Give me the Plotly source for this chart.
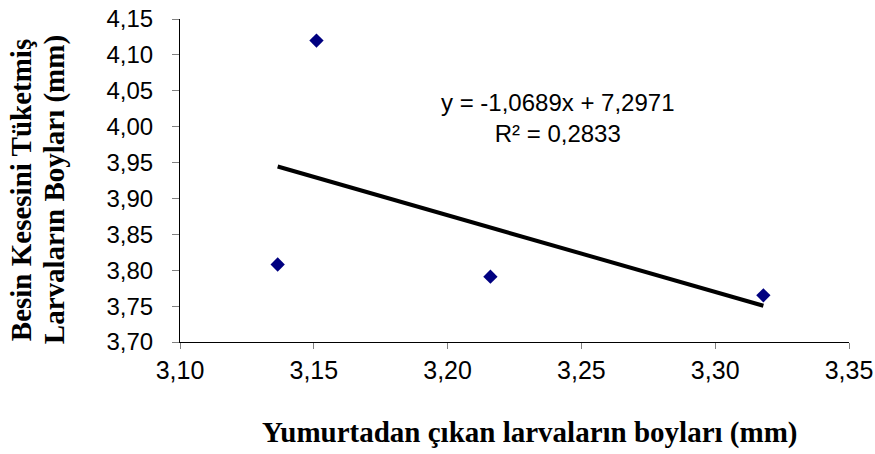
import plotly.graph_objects as go

# Data
hatch_length = [3.151, 3.1365, 3.216, 3.318]      # x: Yumurtadan çıkan larvaların boyları (mm)
yolk_length = [4.120, 3.808, 3.791, 3.765]        # y: Besin kesesini tüketmiş larvaların boyları (mm)
trend_slope = -1.0689
trend_intercept = 7.2971
r_squared = 0.2833
x_ticks = [3.10, 3.15, 3.20, 3.25, 3.30, 3.35]
y_ticks = [3.70, 3.75, 3.80, 3.85, 3.90, 3.95, 4.00, 4.05, 4.10, 4.15]

x_title = "Yumurtadan çıkan larvaların boyları (mm)"
y_title_lines = ["Besin Kesesini Tüketmiş", "Larvaların Boyları (mm)"]

def fmt(v, n):
    return f"{v:.{n}f}".replace(".", ",")

eq_text = (f"y = {fmt(trend_slope, 4)}x + {fmt(trend_intercept, 4)}<br>"
           f"R² = {fmt(r_squared, 4)}")

tx = [min(hatch_length), max(hatch_length)]
ty = [trend_slope * v + trend_intercept for v in tx]

SANS = "Arial, Liberation Sans, sans-serif"
SERIF = "Times New Roman, Liberation Serif, serif"

fig = go.Figure()
fig.add_trace(go.Scatter(
    x=tx, y=ty, mode="lines",
    line=dict(color="black", width=4),
    hoverinfo="skip", showlegend=False,
))
fig.add_trace(go.Scatter(
    x=hatch_length, y=yolk_length, mode="markers",
    marker=dict(symbol="diamond", size=11, color="#000080"),
    showlegend=False,
))

annotations = [
    dict(text=eq_text, xref="paper", yref="paper", x=0.565, y=0.693,
         xanchor="center", yanchor="middle", showarrow=False,
         font=dict(family=SANS, size=24, color="black")),
    dict(text=f"<b>{x_title}</b>", xref="paper", yref="paper", x=0.5217, y=-0.28,
         xanchor="center", yanchor="middle", showarrow=False,
         font=dict(family=SERIF, size=29, color="black")),
]
for i, line in enumerate(y_title_lines):
    annotations.append(dict(
        text=f"<b>{line}</b>", xref="paper", yref="paper",
        x=(21 + 33 * i - 180) / 669, y=0.47,
        xanchor="center", yanchor="middle", textangle=-90, showarrow=False,
        font=dict(family=SERIF, size=29, color="black")))

fig.update_layout(
    width=875, height=454,
    margin=dict(l=180, r=26, t=19, b=112, autoexpand=False),
    paper_bgcolor="white", plot_bgcolor="white",
    separators=",.",
    annotations=annotations,
    showlegend=False,
)
fig.update_xaxes(
    range=[3.10, 3.35], tickvals=x_ticks, tickformat=".2f",
    automargin=False,
    showgrid=False, zeroline=False,
    showline=True, linecolor="black", linewidth=1,
    ticks="outside", ticklen=6, tickcolor="#808080", tickwidth=1,
    tickfont=dict(family=SANS, size=25, color="black"),
)
fig.update_yaxes(
    range=[3.70, 4.15], tickvals=y_ticks, tickformat=".2f",
    automargin=False,
    showgrid=False, zeroline=False,
    showline=True, linecolor="black", linewidth=1,
    ticks="outside", ticklen=7, tickcolor="#808080", tickwidth=1,
    ticklabelstandoff=14,
    tickfont=dict(family=SANS, size=24, color="black"),
)

fig.write_html("out.html")
